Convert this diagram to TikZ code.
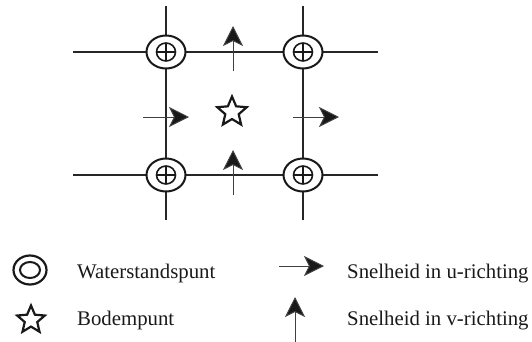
\documentclass[tikz,border=0pt]{standalone}
\usepackage{fontspec}
\setmainfont{Liberation Serif}
\usetikzlibrary{shapes.geometric,arrows.meta}
\begin{document}
\begin{tikzpicture}[x=1pt,y=-1pt,
  gridline/.style={line width=1.5pt, draw=black!85},
  wpoint/.style={ellipse, draw=black!90, line width=2pt, fill=white,
    minimum width=39pt, minimum height=33pt, inner sep=0pt,
    path picture={
      \draw[line width=1.6pt] (path picture bounding box.center)
        ellipse [x radius=9.5pt, y radius=9pt];
      \draw[line width=1.4pt]
        ([xshift=-9.5pt]path picture bounding box.center) -- ++(19pt,0pt)
        ([yshift=-9pt]path picture bounding box.center) -- ++(0pt,18pt);
    }},
  wlegend/.style={ellipse, draw=black!90, line width=2.2pt, fill=white,
    minimum width=33pt, minimum height=29pt, inner sep=0pt,
    path picture={
      \draw[line width=2pt] (path picture bounding box.center)
        ellipse [x radius=10pt, y radius=8pt];
    }},
  bpoint/.style={star, star points=5, star point ratio=2.2, draw=black!90,
    line width=2.2pt, minimum size=31pt, inner sep=0pt},
  velo/.style={line width=1pt, draw=black!75,
    -{Stealth[length=20pt, width=20pt, inset=5pt, fill=black!90]}},
  label/.style={anchor=base west, inner sep=0pt,
    font=\fontsize{20.8}{24}\selectfont, text=black!90},
]
\useasboundingbox (0,0) rectangle (532,341);

% grid line ends
\coordinate (h1w) at (73,52);  \coordinate (h1e) at (378,52);
\coordinate (h2w) at (73,175); \coordinate (h2e) at (378,175);
\coordinate (v1n) at (166,6);  \coordinate (v1s) at (166,220);
\coordinate (v2n) at (303,6);  \coordinate (v2s) at (303,220);

\draw[gridline] (h1w) -- (h1e);
\draw[gridline] (h2w) -- (h2e);
\draw[gridline] (v1n) -- (v1s);
\draw[gridline] (v2n) -- (v2s);

% water level points
\node[wpoint] (wnw) at (166,52) {};
\node[wpoint] (wne) at (303,52) {};
\node[wpoint] (wsw) at (166,175) {};
\node[wpoint] (wse) at (303,175) {};

% bottom point
\node[bpoint] (bodem) at (232,112) {};

% velocity points
\coordinate (vt0) at (233,71);  \coordinate (vt1) at (233,26);
\coordinate (vb0) at (233,195); \coordinate (vb1) at (233,150);
\coordinate (ul0) at (143,117); \coordinate (ul1) at (189,117);
\coordinate (ur0) at (293,117); \coordinate (ur1) at (339,117);

\draw[velo] (vt0) -- (vt1);
\draw[velo] (vb0) -- (vb1);
\draw[velo] (ul0) -- (ul1);
\draw[velo] (ur0) -- (ur1);

% legend
\node[wlegend] (lw) at (30,270) {};
\node[bpoint, minimum size=29pt] (lb) at (31,320) {};
\node[label] (tw) at (77,278) {Waterstandspunt};
\node[label] (tb) at (77,325) {Bodempunt};

\coordinate (lu0) at (279,266); \coordinate (lu1) at (324,266);
\coordinate (lv0) at (295,342); \coordinate (lv1) at (295,297);
\draw[velo] (lu0) -- (lu1);
\draw[velo] (lv0) -- (lv1);
\node[label] (tu) at (347,278) {Snelheid in u-richting};
\node[label] (tv) at (347,325) {Snelheid in v-richting};
\end{tikzpicture}
\end{document}
